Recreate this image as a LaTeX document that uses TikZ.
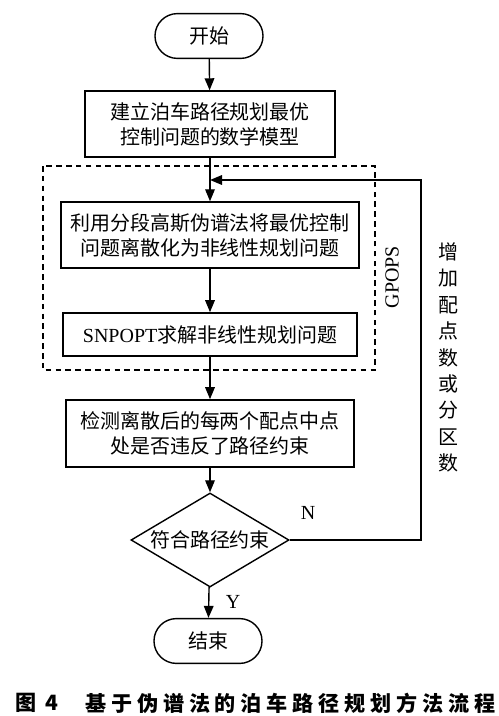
\documentclass[tikz,border=0pt]{standalone}
\usepackage{fontspec}
\setmainfont{Liberation Serif}
\newfontfamily\cjk{Noto Sans CJK SC}
\newfontfamily\capfont{Noto Sans CJK SC}[LetterSpace=23]
\usetikzlibrary{arrows.meta,shapes.geometric,shapes.misc}

\begin{document}
\begin{tikzpicture}[x=0.025cm,y=-0.025cm,
    every node/.style={font=\cjk\fontsize{14.2pt}{17.8pt}\selectfont},
    box/.style={draw,line width=1pt,align=center,inner sep=0pt},
    term/.style={draw,line width=1pt,rounded rectangle,inner sep=0pt,
        minimum width=2.7cm,minimum height=1.12cm},
    arr/.style={line width=1pt,-{Triangle[length=0.3cm,width=0.24cm]}}]
    \useasboundingbox (0,0) rectangle (499,716);
    \node[term] (start) at (209,36) {开始};
    \node[box,minimum width=6.25cm,minimum height=1.65cm] (model) at (210,124)
        {建立泊车路径规划最优\\控制问题的数学模型};
    \node[box,minimum width=7.45cm,minimum height=1.65cm] (discrete) at (210,235)
        {利用分段高斯伪谱法将最优控制\\问题离散化为非线性规划问题};
    \node[box,minimum width=7.35cm,minimum height=1.08cm] (solve) at (210,334.5)
        {{\rmfamily SNPOPT}求解非线性规划问题};
    \node[box,minimum width=7.2cm,minimum height=1.68cm] (detect) at (210,433.5)
        {检测离散后的每两个配点中点\\处是否违反了路径约束};
    \node[draw,line width=1pt,diamond,aspect=1.68,inner sep=0pt,
        minimum width=3.95cm,minimum height=2.35cm] (check) at (210,540) {符合路径约束};
    \node[term] (stop) at (208,641) {结束};
    \draw[line width=0.8pt,dash pattern=on 4pt off 3pt] (43,166) rectangle (375,370);
    \node[rotate=90,font=\rmfamily\fontsize{14.2pt}{17pt}\selectfont] (gpops) at (392,277) {GPOPS};
    \coordinate (join) at (210,180);
    \coordinate (turn) at (421,180);
    \draw[arr] (start) -- (model);
    \draw[arr] (model) -- (discrete);
    \draw[arr] (discrete) -- (solve);
    \draw[arr] (solve) -- (detect);
    \draw[arr] (detect) -- (check);
    \draw[arr] (check) -- (stop);
    \draw[arr] (check.east) -| (turn) -- (join);
    \node[font=\rmfamily\fontsize{14.2pt}{17pt}\selectfont] (yes) at (233,602) {Y};
    \node[font=\rmfamily\fontsize{14.2pt}{17pt}\selectfont] (no) at (308,513) {N};
    \node[align=center,font=\cjk\fontsize{14.2pt}{18.8pt}\selectfont] (more) at (448,357.5)
        {增\\加\\配\\点\\数\\或\\分\\区\\数};
    \node[font=\capfont\bfseries\fontsize{15pt}{18pt}\selectfont] (fig) at (37,703) {图 4};
    \node[anchor=west,inner sep=0pt,font=\capfont\bfseries\fontsize{15pt}{18pt}\selectfont] (caption) at (85,703)
        {基于伪谱法的泊车路径规划方法流程};
\end{tikzpicture}
\end{document}
